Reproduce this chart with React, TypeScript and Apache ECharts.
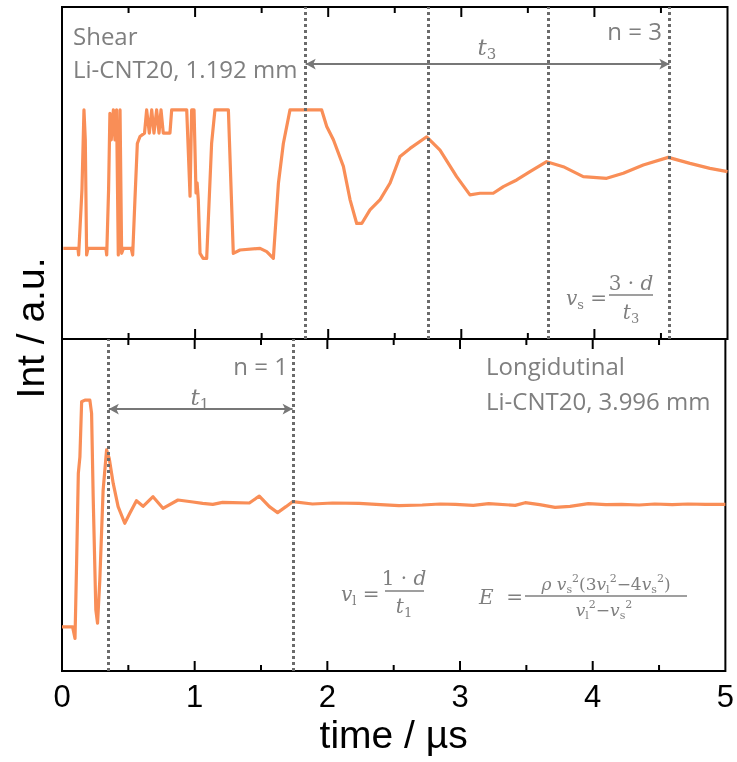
import React, { useEffect, useRef } from 'react';
import * as echarts from 'echarts';

// Shear (top panel) trace
const shearTime = [0.01, 0.12, 0.125, 0.15, 0.165, 0.175, 0.185, 0.195, 0.33, 0.336, 0.35, 0.36, 0.37, 0.386, 0.398, 0.41, 0.423, 0.436, 0.448, 0.461, 0.52, 0.531, 0.548, 0.566, 0.586, 0.62, 0.636, 0.656, 0.674, 0.691, 0.711, 0.729, 0.744, 0.761, 0.811, 0.824, 0.937, 0.962, 0.974, 0.992, 1.007, 1.015, 1.024, 1.037, 1.06, 1.087, 1.124, 1.149, 1.25, 1.287, 1.337, 1.488, 1.538, 1.588, 1.626, 1.663, 1.713, 1.951, 1.989, 2.039, 2.114, 2.164, 2.214, 2.252, 2.314, 2.39, 2.465, 2.54, 2.615, 2.74, 2.84, 2.965, 3.065, 3.14, 3.24, 3.316, 3.416, 3.516, 3.641, 3.766, 3.916, 4.092, 4.217, 4.367, 4.555, 4.718, 4.868, 5.0];
const shearInt = [27.3, 27.3, 25.3, 45, 69, 60, 25.3, 27.3, 27.3, 25.3, 45, 68, 60, 69, 60, 69, 25.3, 69, 25.8, 27.3, 27.3, 25.3, 42, 58.9, 61, 62, 69, 62, 69, 62, 69, 62, 69, 62, 62, 69, 69, 43, 69, 69, 44, 47, 42, 25.8, 24.3, 24.3, 58.9, 69, 69, 25.8, 26.8, 27.3, 26.3, 24.3, 46.9, 58.9, 69, 69, 64, 60, 52, 42, 34.8, 34.8, 38.9, 42, 47, 55, 57.4, 60.9, 56.9, 48.9, 43.4, 43.9, 43.9, 45.9, 47.9, 50.4, 53.4, 51.9, 48.9, 48.4, 49.9, 52.4, 54.7, 52.9, 51.4, 50.4];

// Longitudinal (bottom panel) trace
const longTime = [0.0, 0.08, 0.098, 0.11, 0.123, 0.135, 0.148, 0.173, 0.21, 0.223, 0.235, 0.255, 0.268, 0.285, 0.31, 0.336, 0.356, 0.386, 0.423, 0.473, 0.511, 0.561, 0.611, 0.686, 0.761, 0.874, 0.987, 1.06, 1.137, 1.21, 1.287, 1.412, 1.487, 1.563, 1.625, 1.688, 1.738, 1.888, 2.039, 2.239, 2.4, 2.54, 2.715, 2.85, 2.965, 3.1, 3.216, 3.416, 3.491, 3.6, 3.716, 3.829, 3.967, 4.1, 4.217, 4.35, 4.468, 4.6, 4.718, 4.85, 5.0];
const longInt = [13.3, 13.3, 9.8, 32.4, 59.5, 64.5, 81.1, 81.6, 81.6, 77.6, 52.5, 18.4, 14.4, 27.4, 54.5, 66.6, 64, 56.5, 49.5, 44.5, 47.5, 51.3, 49.6, 52.5, 49, 51.5, 50.9, 50.5, 50.2, 50.8, 50.7, 50.6, 52.7, 49.5, 47.7, 49.5, 51, 50.3, 50.6, 50.5, 50.1, 49.8, 50.0, 50.3, 50.2, 49.9, 50.4, 49.9, 50.7, 50.1, 49.3, 49.6, 50.4, 50.1, 50.2, 50.0, 50.3, 50.1, 50.3, 50.2, 50.2];

// Echo marker times (µs) and arrow levels (a.u.)
const shearMarks = [1.831, 2.747, 3.654, 4.563];
const longMarks = [0.353, 1.738];
const shearArrowLevel = 82.8;
const longArrowLevel = 78.9;

// axes
const xMin = 0;
const xMax = 5;
const xStep = 1;
const yMin = 0;
const yMax = 100;
const majorTicks = [1, 2, 3, 4];
const minorTicks = [0.5, 1.5, 2.5, 3.5, 4.5];

export default function App() {
  const ref = useRef<HTMLDivElement>(null);
  useEffect(() => {
    const chart = echarts.init(ref.current!, undefined, { renderer: 'svg' });
    const gray = '#7f7f7f';
    const orange = '#F98E57';
    const dotGray = '#6b6b6b';
    const sans = '"Open Sans", "Noto Sans", sans-serif';
    const arial = '"Liberation Sans", Arial, sans-serif';
    const serif = '"DejaVu Serif", serif';
    const zip = (a: number[], b: number[]) => a.map((t, i) => [t, b[i]]);

    const xAxisFor = (gridIndex: number, labels: boolean) => ({
      type: 'value',
      gridIndex,
      min: xMin,
      max: xMax,
      interval: xStep,
      axisLine: { show: false },
      axisTick: { show: false },
      splitLine: { show: false },
      axisLabel: {
        show: labels,
        color: '#000',
        fontSize: 31,
        fontFamily: arial,
        margin: 10,
      },
      name: labels ? 'time / µs' : '',
      nameLocation: 'middle',
      nameGap: 44,
      nameTextStyle: { color: '#000', fontSize: 39, fontFamily: arial },
    });

    // inward tick marks on the top and bottom edge of each panel, as thin rect symbols
    const tickPoints = () => {
      const out: any[] = [];
      const add = (t: number, len: number) => {
        out.push({ value: [t, yMin], symbolSize: [2, len], symbolOffset: [0, -len / 2] });
        out.push({ value: [t, yMax], symbolSize: [2, len], symbolOffset: [0, len / 2] });
      };
      majorTicks.forEach((t) => add(t, 10));
      minorTicks.forEach((t) => add(t, 6));
      return out;
    };
    const tickSeries = (idx: number) => ({
      type: 'scatter',
      xAxisIndex: idx,
      yAxisIndex: idx,
      data: tickPoints(),
      symbol: 'rect',
      itemStyle: { color: '#000', opacity: 1 },
      silent: true,
      clip: false,
      z: 6,
    });

    const vLines = (marks: number[]) =>
      marks.map((m) => ({
        xAxis: m,
        symbol: 'none',
        lineStyle: { type: [3, 3], width: 3, color: dotGray },
      }));

    const arrow = (a: number, b: number, level: number) => [
      { coord: [a, level], symbol: 'arrow', symbolSize: [8, 10], lineStyle: { type: 'solid', width: 2, color: '#777' } },
      { coord: [b, level], symbol: 'arrow', symbolSize: [8, 10] },
    ];

    const txt = (x: number, y: number, text: string, align: string, size = 24) => ({
      type: 'text',
      x,
      y,
      silent: true,
      style: { text, fill: gray, fontSize: size, fontFamily: sans, align, verticalAlign: 'middle' },
    });

    const rich = {
      i: { fontStyle: 'italic', fontSize: 20, fontFamily: serif, fill: gray, lineHeight: 26 },
      n: { fontSize: 20, fontFamily: serif, fill: gray, lineHeight: 26 },
      sub: { fontSize: 13, fontFamily: serif, fill: gray, lineHeight: 13, verticalAlign: 'bottom' },
      sup: { fontSize: 13, fontFamily: serif, fill: gray, lineHeight: 13, verticalAlign: 'top' },
      ti: { fontStyle: 'italic', fontSize: 23, fontFamily: serif, fill: gray, lineHeight: 28 },
      tsub: { fontSize: 15, fontFamily: serif, fill: gray, lineHeight: 14, verticalAlign: 'bottom' },
      ei: { fontStyle: 'italic', fontSize: 17, fontFamily: serif, fill: gray, lineHeight: 22 },
      en: { fontSize: 17, fontFamily: serif, fill: gray, lineHeight: 22 },
      esub: { fontSize: 11, fontFamily: serif, fill: gray, lineHeight: 11, verticalAlign: 'bottom' },
      esup: { fontSize: 11, fontFamily: serif, fill: gray, lineHeight: 11, verticalAlign: 'top' },
    };
    const formula = (x: number, y: number, text: string, align: string) => ({
      type: 'text',
      x,
      y,
      silent: true,
      style: { text, rich, fill: gray, align, verticalAlign: 'middle' },
    });
    const bar = (x1: number, x2: number, y: number) => ({
      type: 'line',
      silent: true,
      shape: { x1, y1: y, x2, y2: y },
      style: { stroke: gray, lineWidth: 1.3 },
    });

    chart.setOption({
      animation: false,
      grid: [
        { left: 62, top: 7, width: 665.5, height: 332, show: true, borderColor: '#000', borderWidth: 2 },
        { left: 62, top: 339, width: 665.5, height: 332, show: true, borderColor: '#000', borderWidth: 2 },
      ],
      xAxis: [xAxisFor(0, false), xAxisFor(1, true)],
      yAxis: [
        { type: 'value', gridIndex: 0, min: yMin, max: yMax, show: false },
        { type: 'value', gridIndex: 1, min: yMin, max: yMax, show: false },
      ],
      series: [
        {
          type: 'line',
          xAxisIndex: 0,
          yAxisIndex: 0,
          data: zip(shearTime, shearInt),
          showSymbol: false,
          lineStyle: { color: orange, width: 3.2, join: 'round' },
          z: 3,
          markLine: {
            silent: true,
            symbol: ['none', 'none'],
            label: { show: false },
            emphasis: { disabled: true },
            data: [...vLines(shearMarks), arrow(shearMarks[0], shearMarks[3], shearArrowLevel)],
          },
        },
        {
          type: 'line',
          xAxisIndex: 1,
          yAxisIndex: 1,
          data: zip(longTime, longInt),
          showSymbol: false,
          lineStyle: { color: orange, width: 3.2, join: 'round' },
          z: 3,
          markLine: {
            silent: true,
            symbol: ['none', 'none'],
            label: { show: false },
            emphasis: { disabled: true },
            data: [...vLines(longMarks), arrow(longMarks[0], longMarks[1], longArrowLevel)],
          },
        },
        tickSeries(0),
        tickSeries(1),
      ],
      graphic: [
        {
          type: 'text',
          x: 30,
          y: 328,
          rotation: Math.PI / 2,
          silent: true,
          style: { text: 'Int / a.u.', fill: '#000', fontSize: 39, fontFamily: arial, align: 'center', verticalAlign: 'middle' },
        },
        txt(73, 35, 'Shear', 'left'),
        txt(73, 68, 'Li-CNT20, 1.192 mm', 'left'),
        txt(662, 30, 'n = 3', 'right'),
        formula(487, 47, '{ti|t}{tsub|3}', 'center'),
        txt(486, 365, 'Longidutinal', 'left'),
        txt(486, 400, 'Li-CNT20, 3.996 mm', 'left'),
        txt(288, 365, 'n = 1', 'right'),
        formula(200, 397, '{ti|t}{tsub|1}', 'center'),
        // v_s = 3·d / t3
        formula(566, 298, '{i|v}{sub|s}{n| =}', 'left'),
        formula(631, 283, '{n|3 · }{i|d}', 'center'),
        bar(609, 653, 295),
        formula(631, 312, '{i|t}{sub|3}', 'center'),
        // v_l = 1·d / t1
        formula(341, 594, '{i|v}{sub|l}{n| =}', 'left'),
        formula(404, 578, '{n|1 · }{i|d}', 'center'),
        bar(385, 424, 591),
        formula(404, 606, '{i|t}{sub|1}', 'center'),
        // E formula
        formula(479, 597, '{i|E}{n|  =}', 'left'),
        formula(606, 584, '{ei|ρ v}{esub|s}{esup|2}{en|(3}{ei|v}{esub|l}{esup|2}{en|−4}{ei|v}{esub|s}{esup|2}{en|)}', 'center'),
        bar(525, 687, 596),
        formula(604, 610, '{ei|v}{esub|l}{esup|2}{en|−}{ei|v}{esub|s}{esup|2}', 'center'),
      ],
    });
    return () => chart.dispose();
  }, []);
  return <div ref={ref} style={{ position: 'fixed', left: 0, top: 0, width: 737, height: 762 }} />;
}
